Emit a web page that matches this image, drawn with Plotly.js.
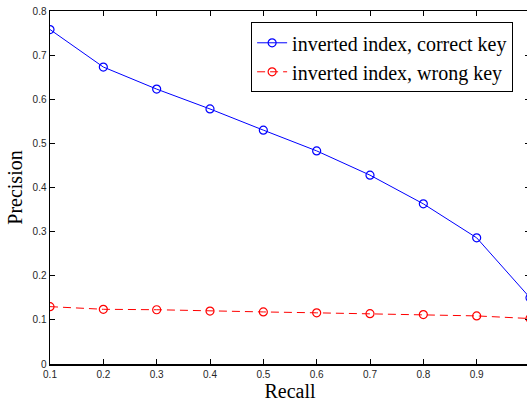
<!DOCTYPE html>
<html>
<head>
<meta charset="utf-8">
<script src="https://cdn.plot.ly/plotly-3.0.1.min.js"></script>
<style>
html,body{margin:0;padding:0;overflow:hidden;background:#fff;}
#chart{width:531px;height:402px;}
</style>
</head>
<body>
<div id="chart"></div>
<script>
const recall = [0.1, 0.2, 0.3, 0.4, 0.5, 0.6, 0.7, 0.8, 0.9, 1.0];
const precisionCorrect = [0.758, 0.673, 0.623, 0.578, 0.530, 0.483, 0.428, 0.363, 0.286, 0.150];
const precisionWrong = [0.130, 0.124, 0.123, 0.120, 0.118, 0.116, 0.114, 0.112, 0.109, 0.103];
const seriesNames = ["inverted index, correct key", "inverted index, wrong key"];

const traces = [
  {
    x: recall, y: precisionCorrect, name: seriesNames[0],
    mode: "lines+markers", type: "scatter",
    line: {color: "#0000ff", width: 1},
    marker: {symbol: "circle-open", size: 8, color: "#0000ff", line: {width: 1.2}}
  },
  {
    x: recall, y: precisionWrong, name: seriesNames[1],
    mode: "lines+markers", type: "scatter",
    line: {color: "#ff0000", width: 1, dash: "8px,5px"},
    marker: {symbol: "circle-open", size: 8, color: "#ff0000", line: {width: 1.2}}
  }
];

const tickFont = {family: "Liberation Sans, Arial, sans-serif", size: 10, color: "#262626"};
const titleFont = {family: "Liberation Serif, Times New Roman, serif", size: 20, color: "#000"};

const layout = {
  width: 531, height: 402,
  margin: {l: 50, r: 1, t: 11, b: 38},
  paper_bgcolor: "#fff", plot_bgcolor: "#fff",
  showlegend: true,
  legend: {
    x: 0.419, y: 0.968, xanchor: "left", yanchor: "top",
    bordercolor: "#000", borderwidth: 1, bgcolor: "#fff",
    font: {family: "Liberation Serif, Times New Roman, serif", size: 20, color: "#000"},
    tracegroupgap: 0, itemwidth: 30
  },
  xaxis: {
    range: [0.1, 1.0], tickvals: [0.1,0.2,0.3,0.4,0.5,0.6,0.7,0.8,0.9,1.0],
    ticktext: ["0.1","0.2","0.3","0.4","0.5","0.6","0.7","0.8","0.9","1"],
    ticks: "inside", ticklen: 5, tickcolor: "#000", tickwidth: 1,
    showline: true, linecolor: "#000", linewidth: 1.5, mirror: "ticks",
    showgrid: false, zeroline: false, tickfont: tickFont,
    title: {text: "Recall", font: titleFont, standoff: 0}
  },
  yaxis: {
    range: [0, 0.8], tickvals: [0,0.1,0.2,0.3,0.4,0.5,0.6,0.7,0.8],
    ticktext: ["0","0.1","0.2","0.3","0.4","0.5","0.6","0.7","0.8"],
    ticks: "inside", ticklen: 5, tickcolor: "#000", tickwidth: 1,
    showline: true, linecolor: "#000", linewidth: 1.5, mirror: "ticks",
    showgrid: false, zeroline: false, tickfont: tickFont,
    title: {text: "Precision", font: titleFont, standoff: 4}
  }
};

Plotly.newPlot("chart", traces, layout, {displayModeBar: false, staticPlot: true});
</script>
</body>
</html>
